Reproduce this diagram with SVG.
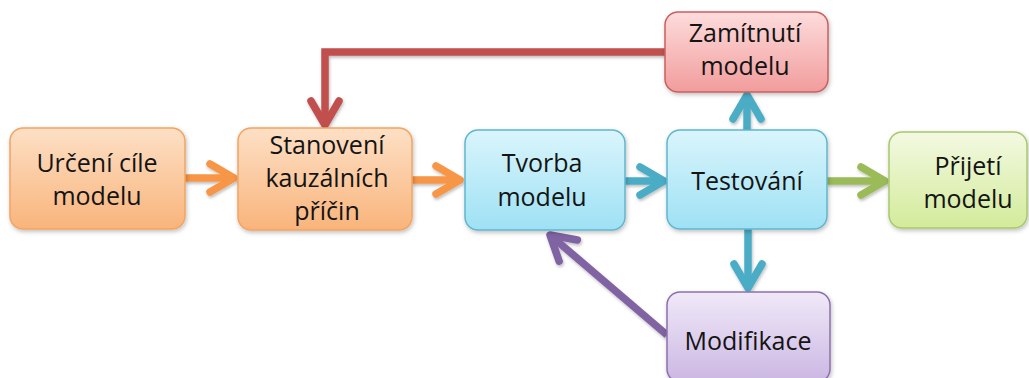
<svg xmlns="http://www.w3.org/2000/svg" width="1029" height="378" viewBox="0 0 1029 378">
  <defs>
    <linearGradient id="gOrange" x1="0" y1="0" x2="0" y2="1">
      <stop offset="0" stop-color="#FDE0C6"/>
      <stop offset="1" stop-color="#F9B47B"/>
    </linearGradient>
    <linearGradient id="gBlue" x1="0" y1="0" x2="0" y2="1">
      <stop offset="0" stop-color="#DAF5FC"/>
      <stop offset="1" stop-color="#9EE1F4"/>
    </linearGradient>
    <linearGradient id="gRed" x1="0" y1="0" x2="0" y2="1">
      <stop offset="0" stop-color="#FDDCDC"/>
      <stop offset="1" stop-color="#F29C9C"/>
    </linearGradient>
    <linearGradient id="gGreen" x1="0" y1="0" x2="0" y2="1">
      <stop offset="0" stop-color="#F3F9E2"/>
      <stop offset="1" stop-color="#D3EB9A"/>
    </linearGradient>
    <linearGradient id="gPurple" x1="0" y1="0" x2="0" y2="1">
      <stop offset="0" stop-color="#F0E9F8"/>
      <stop offset="1" stop-color="#CBB7E3"/>
    </linearGradient>
    <filter id="shadow" x="-10%" y="-10%" width="130%" height="140%">
      <feDropShadow dx="1" dy="2" stdDeviation="2" flood-color="#000" flood-opacity="0.25"/>
    </filter>
    <filter id="lineShadow" filterUnits="userSpaceOnUse" x="0" y="0" width="1029" height="378">
      <feDropShadow dx="1" dy="2" stdDeviation="1.5" flood-color="#000" flood-opacity="0.25"/>
    </filter>
    <marker id="mOrange" markerUnits="userSpaceOnUse" viewBox="-30 -20 40 40" refX="0" refY="0" markerWidth="40" markerHeight="40" orient="auto" overflow="visible">
      <path d="M-24 -14 L0 0 L-24 14" fill="none" stroke="#F79646" stroke-width="7.5" stroke-linecap="round" stroke-linejoin="round"/>
    </marker>
    <marker id="mBlue" markerUnits="userSpaceOnUse" viewBox="-30 -20 40 40" refX="0" refY="0" markerWidth="40" markerHeight="40" orient="auto" overflow="visible">
      <path d="M-24 -14 L0 0 L-24 14" fill="none" stroke="#4BACC6" stroke-width="7.5" stroke-linecap="round" stroke-linejoin="round"/>
    </marker>
    <marker id="mGreen" markerUnits="userSpaceOnUse" viewBox="-30 -20 40 40" refX="0" refY="0" markerWidth="40" markerHeight="40" orient="auto" overflow="visible">
      <path d="M-24 -14 L0 0 L-24 14" fill="none" stroke="#9BBB59" stroke-width="7.5" stroke-linecap="round" stroke-linejoin="round"/>
    </marker>
    <marker id="mRed" markerUnits="userSpaceOnUse" viewBox="-30 -20 40 40" refX="0" refY="0" markerWidth="40" markerHeight="40" orient="auto" overflow="visible">
      <path d="M-24 -14 L0 0 L-24 14" fill="none" stroke="#C0504D" stroke-width="7.5" stroke-linecap="round" stroke-linejoin="round"/>
    </marker>
    <marker id="mPurple" markerUnits="userSpaceOnUse" viewBox="-30 -20 40 40" refX="0" refY="0" markerWidth="40" markerHeight="40" orient="auto" overflow="visible">
      <path d="M-24 -14 L0 0 L-24 14" fill="none" stroke="#8064A2" stroke-width="7.5" stroke-linecap="round" stroke-linejoin="round"/>
    </marker>
  </defs>
  <style>
    .box { stroke-width: 1.5; filter: url(#shadow); }
    .orange { fill: url(#gOrange); stroke: #F4A460; }
    .blue { fill: url(#gBlue); stroke: #5FB6CE; }
    .red { fill: url(#gRed); stroke: #C9605D; }
    .green { fill: url(#gGreen); stroke: #A9C86C; }
    .purple { fill: url(#gPurple); stroke: #8C70AE; }
    .lbl { font-family: "Open Sans", "Liberation Sans", sans-serif; font-size: 25px; fill: #141414; text-anchor: middle; }
    .con { fill: none; stroke-width: 7.5; stroke-linecap: butt; stroke-linejoin: miter; }
  </style>
  <rect width="1029" height="378" fill="#FFFFFF"/>

  <g id="connectors" filter="url(#lineShadow)">
    <path class="con" d="M665 52 L325 52 L325 125" stroke="#C0504D" marker-end="url(#mRed)"/>
    <path class="con" d="M185 178 L234 178" stroke="#F79646" marker-end="url(#mOrange)"/>
    <path class="con" d="M412 180 L460 180" stroke="#F79646" marker-end="url(#mOrange)"/>
    <path class="con" d="M625 181 L664 181" stroke="#4BACC6" marker-end="url(#mBlue)"/>
    <path class="con" d="M827 181 L885 181" stroke="#9BBB59" marker-end="url(#mGreen)"/>
    <path class="con" d="M747 130 L747 95" stroke="#4BACC6" marker-end="url(#mBlue)"/>
    <path class="con" d="M748 229 L748 288" stroke="#4BACC6" marker-end="url(#mBlue)"/>
    <path class="con" d="M667 335 L550 235" stroke="#8064A2" marker-end="url(#mPurple)"/>
  </g>

  <g id="node-urceni">
    <rect class="box orange" x="10" y="128" width="175" height="101" rx="13"/>
    <text class="lbl" x="97" y="172">Určení cíle</text>
    <text class="lbl" x="97" y="205">modelu</text>
  </g>
  <g id="node-stanoveni">
    <rect class="box orange" x="238" y="128" width="174" height="102" rx="13"/>
    <text class="lbl" x="327" y="154">Stanovení</text>
    <text class="lbl" x="327" y="187">kauzálních</text>
    <text class="lbl" x="327" y="220">příčin</text>
  </g>
  <g id="node-tvorba">
    <rect class="box blue" x="465" y="130" width="160" height="100" rx="13"/>
    <text class="lbl" x="542" y="172">Tvorba</text>
    <text class="lbl" x="542" y="206">modelu</text>
  </g>
  <g id="node-testovani">
    <rect class="box blue" x="667" y="130" width="160" height="99" rx="13"/>
    <text class="lbl" x="747" y="190">Testování</text>
  </g>
  <g id="node-zamitnuti">
    <rect class="box red" x="665" y="12" width="163" height="80" rx="13"/>
    <text class="lbl" x="745" y="42">Zamítnutí</text>
    <text class="lbl" x="745" y="75">modelu</text>
  </g>
  <g id="node-prijeti">
    <rect class="box green" x="889" y="132" width="138" height="96" rx="13"/>
    <text class="lbl" x="968" y="175">Přijetí</text>
    <text class="lbl" x="968" y="208">modelu</text>
  </g>
  <g id="node-modifikace">
    <rect class="box purple" x="667" y="292" width="163" height="90" rx="13"/>
    <text class="lbl" x="748" y="350">Modifikace</text>
  </g>
</svg>
